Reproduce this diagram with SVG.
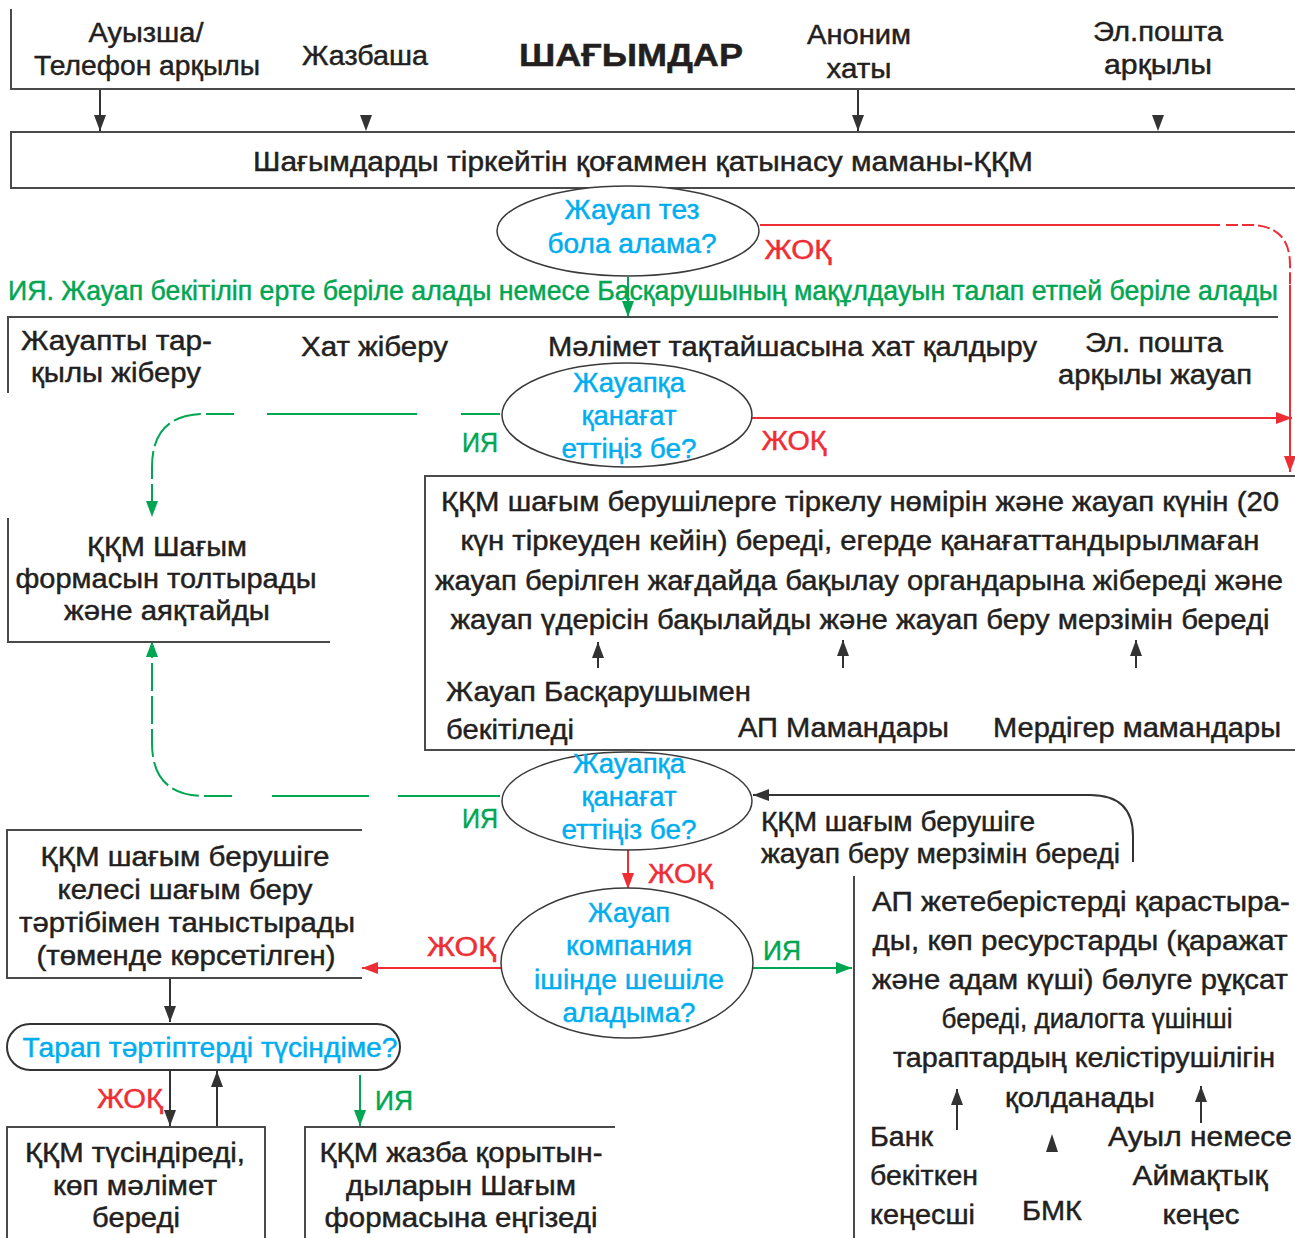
<svg xmlns="http://www.w3.org/2000/svg" width="1295" height="1238" viewBox="0 0 1295 1238">
<style>
text{font-family:"Liberation Sans",Arial,sans-serif;font-size:27px;fill:#231f20;stroke:#231f20;stroke-width:0.45px}
.c{text-anchor:middle}
.q{fill:#00aeef;stroke:#00aeef}
.r{fill:#ee2d35;stroke:#ee2d35}
.g{fill:#00a651;stroke:#00a651}
.b{font-weight:bold;font-size:32px}
.frame{fill:none;stroke:#4a4a4a;stroke-width:2}
.ell{fill:#fff;stroke:#3a3a3a;stroke-width:1.5}
.lk{fill:none;stroke:#333;stroke-width:2}
.lr{fill:none;stroke:#ee2d35;stroke-width:2}
.lg{fill:none;stroke:#00a651;stroke-width:2}
.fine{stroke-dasharray:28 5}
.tiny{stroke-dasharray:12 4}
</style>
<defs>
<marker id="ak" markerUnits="userSpaceOnUse" viewBox="0 0 16 12" refX="16" refY="6" markerWidth="16" markerHeight="12" orient="auto"><path d="M0,0 L16,6 L0,12 z" fill="#333"/></marker>
<marker id="ar" markerUnits="userSpaceOnUse" viewBox="0 0 16 12" refX="16" refY="6" markerWidth="16" markerHeight="12" orient="auto"><path d="M0,0 L16,6 L0,12 z" fill="#ee2d35"/></marker>
<marker id="ag" markerUnits="userSpaceOnUse" viewBox="0 0 16 12" refX="16" refY="6" markerWidth="16" markerHeight="12" orient="auto"><path d="M0,0 L16,6 L0,12 z" fill="#00a651"/></marker>
</defs>
<rect width="1295" height="1238" fill="#fff"/>

<g id="connectors">
<path class="lk" d="M100,89 V131" marker-end="url(#ak)"/>
<polygon points="360,115 372,115 366,131" fill="#333"/>
<path class="lk" d="M858,89 V131" marker-end="url(#ak)"/>
<polygon points="1152,115 1164,115 1158,131" fill="#333"/>
<path class="lr" d="M760,225 H1220"/>
<path class="lr tiny" d="M1226,225 H1250 Q1290,225 1290,265 V285"/>
<path class="lr" d="M1290,285 V472" marker-end="url(#ar)"/>
<path class="lg" d="M628,277 V317" marker-end="url(#ag)"/>
<path class="lr" d="M752,418 H1292" marker-end="url(#ar)"/>
<path class="lg" d="M500,414 H461 M417,414 H267"/>
<path class="lg fine" d="M234,414 H205 Q152,414 152,467 V517" marker-end="url(#ag)"/>
<path class="lk" d="M598,668 V642" marker-end="url(#ak)"/>
<path class="lk" d="M843,668 V640" marker-end="url(#ak)"/>
<path class="lk" d="M1136,668 V640" marker-end="url(#ak)"/>
<path class="lg" d="M500,796 H398 M369,796 H272"/>
<path class="lg fine" d="M232,796 H205 Q152,796 152,743 V641" marker-end="url(#ag)"/>
<path class="lk" d="M1133,862 V836 Q1133,795 1090,795 H753" marker-end="url(#ak)"/>
<path class="lr" d="M628,850 V889" marker-end="url(#ar)"/>
<path class="lr" d="M502,968 H362" marker-end="url(#ar)"/>
<path class="lg" d="M753,968 H852" marker-end="url(#ag)"/>
<path class="lk" d="M170,978 V1022" marker-end="url(#ak)"/>
<path class="lk" d="M170,1070 V1126" marker-end="url(#ak)"/>
<path class="lk" d="M217,1127 V1071" marker-end="url(#ak)"/>
<path class="lg" d="M360,1075 V1126" marker-end="url(#ag)"/>
<path class="lk" d="M957,1130 V1089" marker-end="url(#ak)"/>
<path class="lk" d="M1201,1123 V1086" marker-end="url(#ak)"/>
<polygon points="1046,1152 1058,1152 1052,1134" fill="#333"/>
</g>

<g id="complaints">
<path class="frame" d="M11,9 V89 H1295"/>
<text class="c" x="146" y="42" textLength="115" lengthAdjust="spacingAndGlyphs">Ауызша/</text>
<text class="c" x="147" y="75" textLength="226" lengthAdjust="spacingAndGlyphs">Телефон арқылы</text>
<text class="c" x="365" y="65" textLength="126" lengthAdjust="spacingAndGlyphs">Жазбаша</text>
<text class="c b" x="631" y="66" textLength="224" lengthAdjust="spacingAndGlyphs">ШАҒЫМДАР</text>
<text class="c" x="859" y="44" textLength="104" lengthAdjust="spacingAndGlyphs">Аноним</text>
<text class="c" x="859" y="78" textLength="65" lengthAdjust="spacingAndGlyphs">хаты</text>
<text class="c" x="1158" y="41" textLength="130" lengthAdjust="spacingAndGlyphs">Эл.пошта</text>
<text class="c" x="1158" y="74" textLength="108" lengthAdjust="spacingAndGlyphs">арқылы</text>
</g>

<g id="register">
<path class="frame" d="M1295,132 H11 V188 H1295"/>
<text class="c" x="643" y="171" textLength="780" lengthAdjust="spacingAndGlyphs">Шағымдарды тіркейтін қоғаммен қатынасу маманы-ҚҚМ</text>
</g>

<g id="q-quick">
<ellipse class="ell" cx="628" cy="231" rx="131" ry="45"/>
<text class="c q" x="632" y="219" textLength="135" lengthAdjust="spacingAndGlyphs">Жауап тез</text>
<text class="c q" x="632" y="253" textLength="169" lengthAdjust="spacingAndGlyphs">бола алама?</text>
</g>
<g id="lbl-no1"><text class="c r" x="798" y="259" textLength="67" lengthAdjust="spacingAndGlyphs">ЖОҚ</text></g>
<g id="lbl-yes-long"><text class="g" x="8" y="300" textLength="1270" lengthAdjust="spacingAndGlyphs">ИЯ. Жауап бекітіліп ерте беріле алады немесе Басқарушының мақұлдауын талап етпей беріле алады</text></g>

<g id="send-options">
<path class="frame" d="M1278,317 H8 V393"/>
<text x="21" y="350" textLength="191" lengthAdjust="spacingAndGlyphs">Жауапты тар-</text>
<text x="31" y="382" textLength="170" lengthAdjust="spacingAndGlyphs">қылы жіберу</text>
<text x="301" y="356" textLength="147" lengthAdjust="spacingAndGlyphs">Хат жіберу</text>
<text x="548" y="356" textLength="489" lengthAdjust="spacingAndGlyphs">Мәлімет тақтайшасына хат қалдыру</text>
<text x="1085" y="352" textLength="138" lengthAdjust="spacingAndGlyphs">Эл. пошта</text>
<text x="1058" y="384" textLength="194" lengthAdjust="spacingAndGlyphs">арқылы жауап</text>
</g>

<g id="q-satisfied1">
<ellipse class="ell" cx="627" cy="415" rx="125" ry="52"/>
<text class="c q" x="629" y="392" textLength="112" lengthAdjust="spacingAndGlyphs">Жауапқа</text>
<text class="c q" x="629" y="425" textLength="95" lengthAdjust="spacingAndGlyphs">қанағат</text>
<text class="c q" x="629" y="458" textLength="135" lengthAdjust="spacingAndGlyphs">еттіңіз бе?</text>
</g>
<g id="lbl-2"><text class="c r" x="794" y="450" textLength="65" lengthAdjust="spacingAndGlyphs">ЖОҚ</text>
<text class="g" x="462" y="452" textLength="36" lengthAdjust="spacingAndGlyphs">ИЯ</text></g>

<g id="fill-form">
<path class="frame" d="M8,518 V642 H330"/>
<text class="c" x="167" y="556" textLength="160" lengthAdjust="spacingAndGlyphs">ҚҚМ Шағым</text>
<text class="c" x="166" y="588" textLength="301" lengthAdjust="spacingAndGlyphs">формасын толтырады</text>
<text class="c" x="167" y="620" textLength="206" lengthAdjust="spacingAndGlyphs">және аяқтайды</text>
</g>

<g id="register-number">
<path class="frame" d="M1295,476 H425 V750 H1295"/>
<text class="c" x="860" y="511" textLength="838" lengthAdjust="spacingAndGlyphs">ҚҚМ шағым берушілерге тіркелу нөмірін және жауап күнін (20</text>
<text class="c" x="860" y="550" textLength="799" lengthAdjust="spacingAndGlyphs">күн тіркеуден кейін) береді, егерде қанағаттандырылмаған</text>
<text class="c" x="859" y="590" textLength="848" lengthAdjust="spacingAndGlyphs">жауап берілген жағдайда бақылау органдарына жібереді және</text>
<text class="c" x="860" y="629" textLength="819" lengthAdjust="spacingAndGlyphs">жауап үдерісін бақылайды және жауап беру мерзімін береді</text>
<text x="446" y="701" textLength="305" lengthAdjust="spacingAndGlyphs">Жауап Басқарушымен</text>
<text x="446" y="739" textLength="128" lengthAdjust="spacingAndGlyphs">бекітіледі</text>
<text x="738" y="737" textLength="211" lengthAdjust="spacingAndGlyphs">АП Мамандары</text>
<text x="993" y="737" textLength="288" lengthAdjust="spacingAndGlyphs">Мердігер мамандары</text>
</g>

<g id="q-satisfied2">
<ellipse class="ell" cx="627" cy="801" rx="125" ry="49"/>
<text class="c q" x="629" y="773" textLength="112" lengthAdjust="spacingAndGlyphs">Жауапқа</text>
<text class="c q" x="629" y="806" textLength="95" lengthAdjust="spacingAndGlyphs">қанағат</text>
<text class="c q" x="629" y="839" textLength="135" lengthAdjust="spacingAndGlyphs">еттіңіз бе?</text>
</g>
<g id="lbl-3"><text class="g" x="462" y="828" textLength="36" lengthAdjust="spacingAndGlyphs">ИЯ</text>
<text x="761" y="831" textLength="274" lengthAdjust="spacingAndGlyphs">ҚҚМ шағым берушіге</text>
<text x="761" y="863" textLength="359" lengthAdjust="spacingAndGlyphs">жауап беру мерзімін береді</text>
<text class="r" x="648" y="883" textLength="65" lengthAdjust="spacingAndGlyphs">ЖОҚ</text></g>

<g id="q-company">
<ellipse class="ell" cx="627" cy="963" rx="126" ry="75"/>
<text class="c q" x="629" y="922" textLength="82" lengthAdjust="spacingAndGlyphs">Жауап</text>
<text class="c q" x="629" y="955" textLength="126" lengthAdjust="spacingAndGlyphs">компания</text>
<text class="c q" x="629" y="989" textLength="190" lengthAdjust="spacingAndGlyphs">ішінде шешіле</text>
<text class="c q" x="629" y="1022" textLength="133" lengthAdjust="spacingAndGlyphs">аладыма?</text>
</g>
<g id="lbl-4"><text class="r" x="427" y="956" textLength="69" lengthAdjust="spacingAndGlyphs">ЖОҚ</text>
<text class="g" x="763" y="960" textLength="38" lengthAdjust="spacingAndGlyphs">ИЯ</text></g>

<g id="next-procedure">
<path class="frame" d="M362,830 H7 V978 H362"/>
<text class="c" x="185" y="866" textLength="289" lengthAdjust="spacingAndGlyphs">ҚҚМ шағым берушіге</text>
<text class="c" x="185" y="899" textLength="255" lengthAdjust="spacingAndGlyphs">келесі шағым беру</text>
<text class="c" x="187" y="932" textLength="336" lengthAdjust="spacingAndGlyphs">тәртібімен таныстырады</text>
<text class="c" x="186" y="965" textLength="299" lengthAdjust="spacingAndGlyphs">(төменде көрсетілген)</text>
</g>

<g id="q-understood">
<rect x="7" y="1024" width="393" height="46" rx="23" fill="#fff" stroke="#333" stroke-width="2"/>
<text class="c q" x="210" y="1057" textLength="375" lengthAdjust="spacingAndGlyphs">Тарап тәртіптерді түсіндіме?</text>
</g>
<g id="lbl-5"><text class="r" x="97" y="1108" textLength="66" lengthAdjust="spacingAndGlyphs">ЖОҚ</text>
<text class="g" x="375" y="1110" textLength="38" lengthAdjust="spacingAndGlyphs">ИЯ</text></g>

<g id="explain">
<path class="frame" d="M7,1238 V1127 H265 V1238"/>
<text class="c" x="135" y="1162" textLength="220" lengthAdjust="spacingAndGlyphs">ҚҚМ түсіндіреді,</text>
<text class="c" x="135" y="1195" textLength="164" lengthAdjust="spacingAndGlyphs">көп мәлімет</text>
<text class="c" x="136" y="1227" textLength="88" lengthAdjust="spacingAndGlyphs">береді</text>
</g>

<g id="record">
<path class="frame" d="M305,1238 V1127 H615"/>
<text class="c" x="461" y="1162" textLength="283" lengthAdjust="spacingAndGlyphs">ҚҚМ жазба қорытын-</text>
<text class="c" x="461" y="1195" textLength="230" lengthAdjust="spacingAndGlyphs">дыларын Шағым</text>
<text class="c" x="461" y="1227" textLength="273" lengthAdjust="spacingAndGlyphs">формасына еңгізеді</text>
</g>

<g id="ap-resources">
<path class="frame" d="M854,876 V1238" stroke="#777"/>
<text class="c" x="1081" y="911" textLength="418" lengthAdjust="spacingAndGlyphs">АП жетеберістерді қарастыра-</text>
<text class="c" x="1080" y="950" textLength="415" lengthAdjust="spacingAndGlyphs">ды, көп ресурстарды (қаражат</text>
<text class="c" x="1080" y="989" textLength="416" lengthAdjust="spacingAndGlyphs">және адам күші) бөлуге рұқсат</text>
<text class="c" x="1087" y="1028" textLength="291" lengthAdjust="spacingAndGlyphs">береді, диалогта үшінші</text>
<text class="c" x="1084" y="1067" textLength="382" lengthAdjust="spacingAndGlyphs">тараптардың келістірушілігін</text>
<text class="c" x="1080" y="1107" textLength="150" lengthAdjust="spacingAndGlyphs">қолданады</text>
<text x="870" y="1146" textLength="63" lengthAdjust="spacingAndGlyphs">Банк</text>
<text x="870" y="1185" textLength="108" lengthAdjust="spacingAndGlyphs">бекіткен</text>
<text x="870" y="1224" textLength="105" lengthAdjust="spacingAndGlyphs">кеңесші</text>
<text x="1022" y="1220" textLength="60" lengthAdjust="spacingAndGlyphs">БМК</text>
<text x="1108" y="1146" textLength="184" lengthAdjust="spacingAndGlyphs">Ауыл немесе</text>
<text class="c" x="1200" y="1185" textLength="135" lengthAdjust="spacingAndGlyphs">Аймақтық</text>
<text class="c" x="1201" y="1224" textLength="77" lengthAdjust="spacingAndGlyphs">кеңес</text>
</g>
</svg>
